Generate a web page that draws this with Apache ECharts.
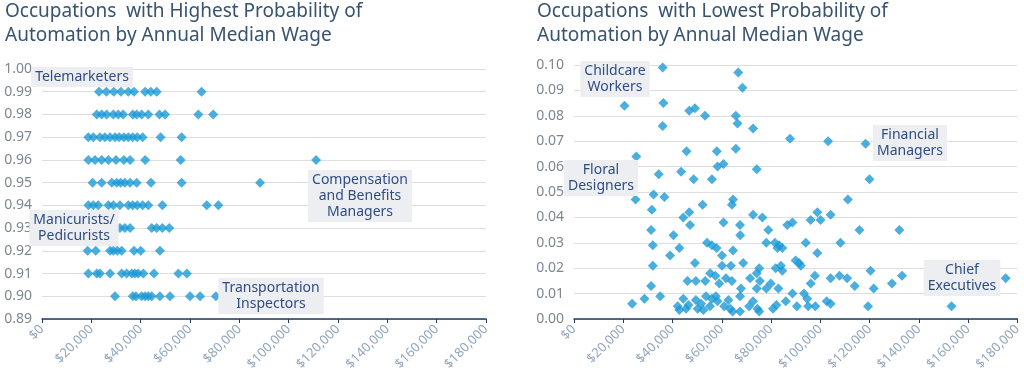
<!DOCTYPE html>
<html><head><meta charset="utf-8">
<script src="https://cdn.jsdelivr.net/npm/echarts@6/dist/echarts.min.js"></script>
<style>html,body{margin:0;padding:0;background:#fff}#c{width:1024px;height:382px}</style>
</head><body><div id="c"></div>
<script>
// ---- DATA ----
const titleHigh = "Occupations  with Highest Probability of\nAutomation by Annual Median Wage";
const titleLow = "Occupations  with Lowest Probability of\nAutomation by Annual Median Wage";
const xTicks = [0, 20000, 40000, 60000, 80000, 100000, 120000, 140000, 160000, 180000];
const highLevels = [0.99, 0.98, 0.97, 0.96, 0.95, 0.94, 0.93, 0.92, 0.91, 0.90];
// wages in $ thousands per probability level (same order as highLevels)
const highWages = [
  [23.1, 26.1, 29.1, 32.0, 35.0, 37.3, 41.8, 44.1, 46.5, 64.7],
  [22.2, 24.2, 26.2, 28.9, 30.9, 32.9, 36.8, 38.4, 40.4, 43.1, 47.6, 49.9, 63.4, 69.4],
  [18.8, 20.8, 23.5, 25.5, 27.6, 29.6, 31.3, 33.2, 35.0, 36.8, 38.6, 40.8, 48.1, 56.6],
  [18.8, 21.5, 24.2, 26.9, 30.0, 33.2, 35.7, 41.8, 56.2, 111.1],
  [20.5, 24.2, 28.3, 30.3, 31.9, 33.6, 35.7, 38.4, 44.2, 56.6, 88.4],
  [18.8, 20.8, 22.8, 26.9, 28.9, 31.6, 35.0, 36.8, 38.6, 40.8, 43.1, 48.8, 66.8, 71.5],
  [31.6, 33.6, 35.7, 44.5, 46.5, 48.8, 51.6],
  [18.5, 21.8, 27.6, 28.9, 30.5, 32.3, 37.3, 40.0, 47.8],
  [18.8, 22.2, 23.5, 27.6, 32.3, 34.3, 36.4, 37.7, 39.0, 41.1, 45.4, 55.3, 58.7],
  [29.6, 36.8, 38.1, 40.4, 41.8, 43.1, 44.5, 47.8, 51.9, 60.0, 64.1, 70.5]
];
// [wage in $ thousands, probability]
const lowPoints = [
  [36.0,0.099],[20.5,0.084],[36.3,0.085],[36.0,0.076],[25.3,0.064],[34.4,0.057],[46.8,0.082],[49.1,0.083],
  [53.2,0.080],[45.7,0.066],[43.5,0.058],[48.6,0.055],[56.0,0.055],[58.0,0.066],[58.3,0.060],[60.7,0.061],
  [66.7,0.097],[68.4,0.091],[65.7,0.080],[66.4,0.077],[72.7,0.075],[65.7,0.067],[74.2,0.059],
  [25.0,0.047],[32.3,0.049],[36.7,0.048],[31.6,0.043],[31.3,0.035],[32.0,0.029],[32.0,0.021],[31.3,0.013],
  [35.0,0.009],[28.6,0.008],[23.6,0.006],[40.4,0.033],[39.0,0.025],[42.8,0.028],[44.4,0.040],[46.8,0.042],
  [47.1,0.037],[52.2,0.045],[49.1,0.022],[46.1,0.015],[49.5,0.015],[53.3,0.015],[54.0,0.030],[56.0,0.029],
  [57.9,0.028],[60.1,0.025],[55.3,0.018],[57.4,0.017],[59.0,0.014],[60.1,0.021],[60.7,0.038],[64.6,0.047],
  [64.1,0.045],[67.4,0.037],[67.5,0.033],[64.6,0.027],[63.7,0.021],[61.7,0.016],[64.1,0.015],[68.7,0.022],
  [67.8,0.012],[67.4,0.009],[71.5,0.016],[72.7,0.041],[76.5,0.040],[78.9,0.035],[78.1,0.030],[75.2,0.020],
  [74.2,0.018],[75.5,0.015],[78.1,0.012],[74.2,0.012],[81.6,0.030],[82.6,0.028],[81.9,0.020],[79.9,0.014],
  [83.0,0.012],
  [42.1,0.005],[42.8,0.0035],[44.4,0.008],[45.5,0.004],[46.5,0.0055],[49.5,0.0075],[50.2,0.004],[51.6,0.006],
  [52.5,0.0035],[53.6,0.009],[55.2,0.005],[56.0,0.008],[57.6,0.009],[58.3,0.007],[61.0,0.005],[62.7,0.0075],
  [63.4,0.004],[64.4,0.003],[67.4,0.003],[71.1,0.005],[72.7,0.007],[74.5,0.004],[75.2,0.003],[80.8,0.004],
  [82.2,0.0055],
  [86.0,0.007],[90.5,0.005],[94.7,0.008],[95.1,0.005],[98.0,0.005],[102.6,0.007],[104.2,0.006],[119.4,0.005],
  [153.3,0.005],
  [120.0,0.055],[111.2,0.047],[98.8,0.042],[100.1,0.039],[96.1,0.039],[104.2,0.041],[88.7,0.038],[86.6,0.037],
  [115.9,0.035],[132.1,0.035],[94.1,0.030],[108.2,0.030],[83.3,0.029],[84.6,0.028],[98.8,0.026],[90.0,0.023],
  [91.4,0.022],[92.1,0.021],[84.0,0.021],[84.6,0.019],[120.4,0.019],[133.2,0.017],[129.1,0.014],[175.3,0.016],
  [107.8,0.017],[110.9,0.016],[104.2,0.016],[114.0,0.013],[121.7,0.012],[97.8,0.017],[96.1,0.014],[88.7,0.010],
  [93.4,0.010],
  [87.7,0.071],[103.2,0.070],[118.4,0.069]
];
const highNotes = ["Telemarketers", "Manicurists/\nPedicurists", "Compensation\nand Benefits\nManagers", "Transportation\nInspectors"];
const lowNotes = ["Childcare\nWorkers", "Floral\nDesigners", "Financial\nManagers", "Chief\nExecutives"];

// ---- BUILD ----
const highData = [];
highLevels.forEach((p, i) => highWages[i].forEach(w => highData.push([w * 1000, p])));
const lowData = lowPoints.map(d => [d[0] * 1000, d[1]]);

const money = v => '$' + String(v).replace(/\B(?=(\d{3})+(?!\d))/g, ',');
const titleColor = '#37536f';
const markColor = '#1d9ad6';
const noteStyle = {
  fill: '#2f4d85', font: '14px "Noto Sans"', backgroundColor: '#eceef1',
  padding: [2, 4], align: 'center', verticalAlign: 'middle', lineHeight: 16
};
function xAxis(gi) {
  return {
    type: 'value', gridIndex: gi, min: xTicks[0], max: xTicks[xTicks.length - 1], interval: xTicks[1] - xTicks[0],
    axisLine: { show: true, lineStyle: { color: '#1f3b5c', width: 1.5 } },
    axisTick: { show: true, length: 4, lineStyle: { color: '#1f3b5c' } },
    splitLine: { show: false },
    axisLabel: { rotate: 45, margin: 8, color: '#93a6bd', fontSize: 13, fontFamily: 'Noto Sans', formatter: money }
  };
}
function yAxis(gi, min, max) {
  return {
    type: 'value', gridIndex: gi, min: min, max: max, interval: 0.01,
    axisLine: { show: false }, axisTick: { show: false },
    splitLine: { show: true, lineStyle: { color: '#dedede', width: 1 } },
    axisLabel: { color: '#7d8790', fontSize: 14, fontFamily: 'Noto Sans', margin: 10, formatter: v => v.toFixed(2) }
  };
}
function note(text, x, y) {
  return { type: 'text', x: x, y: y, z: 100, style: Object.assign({ text: text }, noteStyle) };
}
const titleText = { color: titleColor, fontSize: 19, fontWeight: 'normal', fontFamily: 'Noto Sans', lineHeight: 24 };
const chart = echarts.init(document.getElementById('c'), null, { renderer: 'canvas' });
chart.setOption({
  animation: false,
  title: [
    { text: titleHigh, left: 5, top: 0, padding: 0, textStyle: titleText },
    { text: titleLow, left: 537, top: 0, padding: 0, textStyle: titleText }
  ],
  grid: [
    { left: 42, right: 538, top: 69, bottom: 63, containLabel: false },
    { left: 574, right: 5, top: 65, bottom: 63, containLabel: false }
  ],
  xAxis: [xAxis(0), xAxis(1)],
  yAxis: [yAxis(0, 0.89, 1.00), yAxis(1, 0, 0.10)],
  series: [
    { type: 'scatter', xAxisIndex: 0, yAxisIndex: 0, data: highData, symbol: 'diamond', symbolSize: 10, itemStyle: { color: markColor } },
    { type: 'scatter', xAxisIndex: 1, yAxisIndex: 1, data: lowData, symbol: 'diamond', symbolSize: 10, itemStyle: { color: markColor } }
  ],
  graphic: [
    note(highNotes[0], 82, 77),
    note(highNotes[1], 74, 228),
    note(highNotes[2], 360, 196),
    note(highNotes[3], 271, 296),
    note(lowNotes[0], 615, 79),
    note(lowNotes[1], 601, 178),
    note(lowNotes[2], 910, 143),
    note(lowNotes[3], 962, 278)
  ]
});
</script>
</body></html>
